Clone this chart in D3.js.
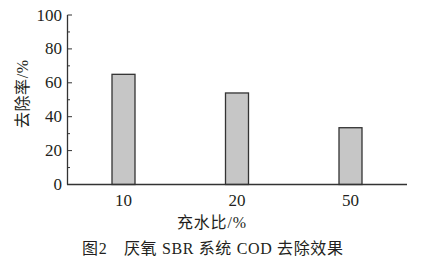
<!DOCTYPE html>
<html>
<head>
<meta charset="utf-8">
<script src="https://cdn.jsdelivr.net/npm/d3@7"></script>
<style>
  body { margin: 0; background: #fff; }
</style>
</head>
<body>
<svg id="chart" width="422" height="264"></svg>
<script>
// data
const categories = ['10', '20', '50'];
const removal = [65, 54, 33.5];
const yTicks = [0, 20, 40, 60, 80, 100];
const yMinorTicks = [10, 30, 50, 70, 90];

const fontFam = "'Liberation Serif', 'Noto Sans CJK SC', serif";
const textColor = '#231f20';
const axisColor = '#333';

const svg = d3.select('#chart');

const xScale = d3.scalePoint()
    .domain(categories)
    .range([123.5, 350.5]);
const yScale = d3.scaleLinear()
    .domain([0, 100])
    .range([184.5, 15]);

// bars
svg.selectAll('rect.bar')
    .data(removal)
    .enter().append('rect')
    .attr('class', 'bar')
    .attr('x', (d, i) => xScale(categories[i]) - 11.5)
    .attr('width', 23)
    .attr('y', d => yScale(d))
    .attr('height', d => yScale(0) - yScale(d))
    .attr('fill', '#c6c6c6')
    .attr('stroke', '#333')
    .attr('stroke-width', 1.3);

// y axis line
svg.append('line')
    .attr('x1', 67.5).attr('x2', 67.5)
    .attr('y1', yScale(100)).attr('y2', yScale(0))
    .attr('stroke', axisColor).attr('stroke-width', 1.3);
// x axis line
svg.append('line')
    .attr('x1', 67).attr('x2', 407)
    .attr('y1', yScale(0)).attr('y2', yScale(0))
    .attr('stroke', axisColor).attr('stroke-width', 1.3);

// major ticks (inward)
svg.selectAll('line.major')
    .data(yTicks.filter(d => d > 0))
    .enter().append('line')
    .attr('x1', 67.5).attr('x2', 72)
    .attr('y1', d => yScale(d)).attr('y2', d => yScale(d))
    .attr('stroke', axisColor).attr('stroke-width', 1);
// minor ticks
svg.selectAll('line.minor')
    .data(yMinorTicks)
    .enter().append('line')
    .attr('x1', 67.5).attr('x2', 70)
    .attr('y1', d => yScale(d)).attr('y2', d => yScale(d))
    .attr('stroke', axisColor).attr('stroke-width', 1);

// y tick labels
svg.selectAll('text.ytick')
    .data(yTicks)
    .enter().append('text')
    .attr('x', 62)
    .attr('y', d => yScale(d) + 5.5)
    .attr('text-anchor', 'end')
    .attr('font-family', fontFam)
    .attr('fill', textColor)
    .attr('font-size', 17)
    .text(d => d);

// x tick labels
svg.selectAll('text.xtick')
    .data(categories)
    .enter().append('text')
    .attr('x', d => xScale(d))
    .attr('y', 206)
    .attr('text-anchor', 'middle')
    .attr('font-family', fontFam)
    .attr('fill', textColor)
    .attr('font-size', 17)
    .text(d => d);

// axis titles
svg.append('text')
    .attr('x', 177)
    .attr('y', 228)
    .attr('font-family', fontFam)
    .attr('fill', textColor)
    .attr('font-size', 16)
    .attr('textLength', 69)
    .attr('lengthAdjust', 'spacing')
    .text('充水比/%');

svg.append('text')
    .attr('transform', 'translate(28,128) rotate(-90)')
    .attr('font-family', fontFam)
    .attr('fill', textColor)
    .attr('font-size', 16)
    .attr('textLength', 68)
    .attr('lengthAdjust', 'spacing')
    .text('去除率/%');

// caption
svg.append('text')
    .attr('x', 82)
    .attr('y', 254)
    .attr('font-family', fontFam)
    .attr('fill', textColor)
    .attr('font-size', 16)
    .attr('textLength', 261)
    .attr('lengthAdjust', 'spacing')
    .attr('xml:space', 'preserve')
    .text('图2　厌氧 SBR 系统 COD 去除效果');
</script>
</body>
</html>
